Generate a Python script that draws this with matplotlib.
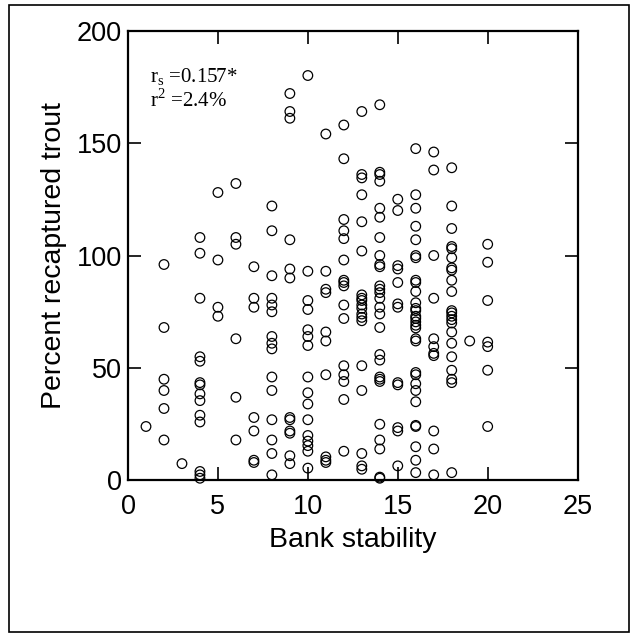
import matplotlib
matplotlib.use("Agg")
import matplotlib.pyplot as plt
from matplotlib.patches import Rectangle

plt.rcParams['font.family'] = ['Liberation Sans', 'DejaVu Sans']

# percent of trout recaptured, grouped by bank stability score
bank_1 = [24]
bank_2 = [96, 68, 45, 40, 32, 18]
bank_3 = [7.5]
bank_4 = [108, 101, 81, 55, 53, 43.5, 42.5, 38.5, 35.5, 29, 26, 4, 2.5, 1]
bank_5 = [128, 98, 77, 73]
bank_6 = [132, 108, 105, 63, 37, 18]
bank_7 = [95, 81, 77, 28, 22, 9, 8]
bank_8 = [122, 111, 91, 81, 78, 75, 64, 61, 58.5, 46, 40, 27, 18, 12, 2.5]
bank_9 = [172, 164, 161, 107, 94, 90, 28, 27, 22, 21, 11, 7.5]
bank_10 = [180, 93, 80, 76, 67, 64, 60, 46, 39, 34, 27, 20, 17.5, 15.5, 13, 5.5]
bank_11 = [154, 93, 85, 83.5, 66, 62, 47, 10.5, 9, 8]
bank_12 = [158, 143, 116, 111, 107.5, 98, 89, 88, 86.5, 78, 72, 51, 47, 44, 36, 13]
bank_13 = [164, 136, 134.5, 127, 115, 102, 82.5, 81, 80, 78, 76.5, 74, 72.5,
           71, 51, 40, 12, 6.5, 5]
bank_14 = [167, 137, 136, 133, 121, 117, 108, 100, 96, 95, 86.5, 85, 83.5, 81,
           77, 74, 68, 56, 53.5, 46, 45, 44, 25, 18, 14, 1.5, 1]
bank_15 = [125, 120, 95.5, 94, 88, 78.5, 77, 43.5, 42.5, 23.5, 22, 6.5]
bank_16 = [147.5, 127, 121, 113, 107, 100, 99, 89, 88, 84, 79, 76.5, 75.5, 73,
           72, 70.5, 69, 67.8, 63, 62, 48, 47, 43, 40, 35, 24.5, 24, 15, 9, 3.5]
bank_17 = [146, 138, 100, 81, 63, 59.5, 56.5, 55.5, 22, 14, 2.5]
bank_18 = [139, 122, 112, 104, 103, 99, 94.5, 93.5, 89, 84, 75.5, 74.5, 73,
           71.5, 70, 66, 61, 55, 49, 45, 43.5, 3.5]
bank_19 = [62]
bank_20 = [105, 97, 80, 61.5, 59.5, 49, 24]

groups = [bank_1, bank_2, bank_3, bank_4, bank_5, bank_6, bank_7, bank_8,
          bank_9, bank_10, bank_11, bank_12, bank_13, bank_14, bank_15,
          bank_16, bank_17, bank_18, bank_19, bank_20]

x = []
y = []
for score, vals in enumerate(groups, start=1):
    x += [score] * len(vals)
    y += vals

fig = plt.figure(figsize=(6.35, 6.37), dpi=100)
ax = fig.add_axes([0.2016, 0.2457, 0.708, 0.7064])

ax.scatter(x, y, s=48, facecolors='none', edgecolors='black', linewidths=0.9,
           clip_on=False, zorder=3)

ax.set_xlim(0, 25)
ax.set_ylim(0, 200)
ax.set_xticks([0, 5, 10, 15, 20, 25])
ax.set_yticks([0, 50, 100, 150, 200])
ax.tick_params(direction='in', top=True, right=True, length=9.5, width=1.2,
               labelsize=19.5)
ax.tick_params(axis='x', pad=10)
ax.tick_params(axis='y', pad=4.5)
for sp in ax.spines.values():
    sp.set_linewidth(1.6)

ax.set_xlabel('Bank stability', fontsize=20.5, labelpad=5)
ax.set_ylabel('Percent recaptured trout', fontsize=20.5, labelpad=7)

serif = ['Liberation Serif', 'DejaVu Serif']
ax.text(0.049, 0.884, r'r$_\mathregular{s}$ =0.157*', transform=ax.transAxes,
        family=serif, fontsize=15, va='baseline')
ax.text(0.049, 0.831, r'r$^\mathregular{2}$ =2.4%', transform=ax.transAxes,
        family=serif, fontsize=15, va='baseline')

# border round the whole figure
fig.patches.append(Rectangle((0.0142, 0.0078), 0.976, 0.984, transform=fig.transFigure,
                             fill=False, edgecolor='black', linewidth=1.2))

fig.savefig('out.png', dpi=100)
